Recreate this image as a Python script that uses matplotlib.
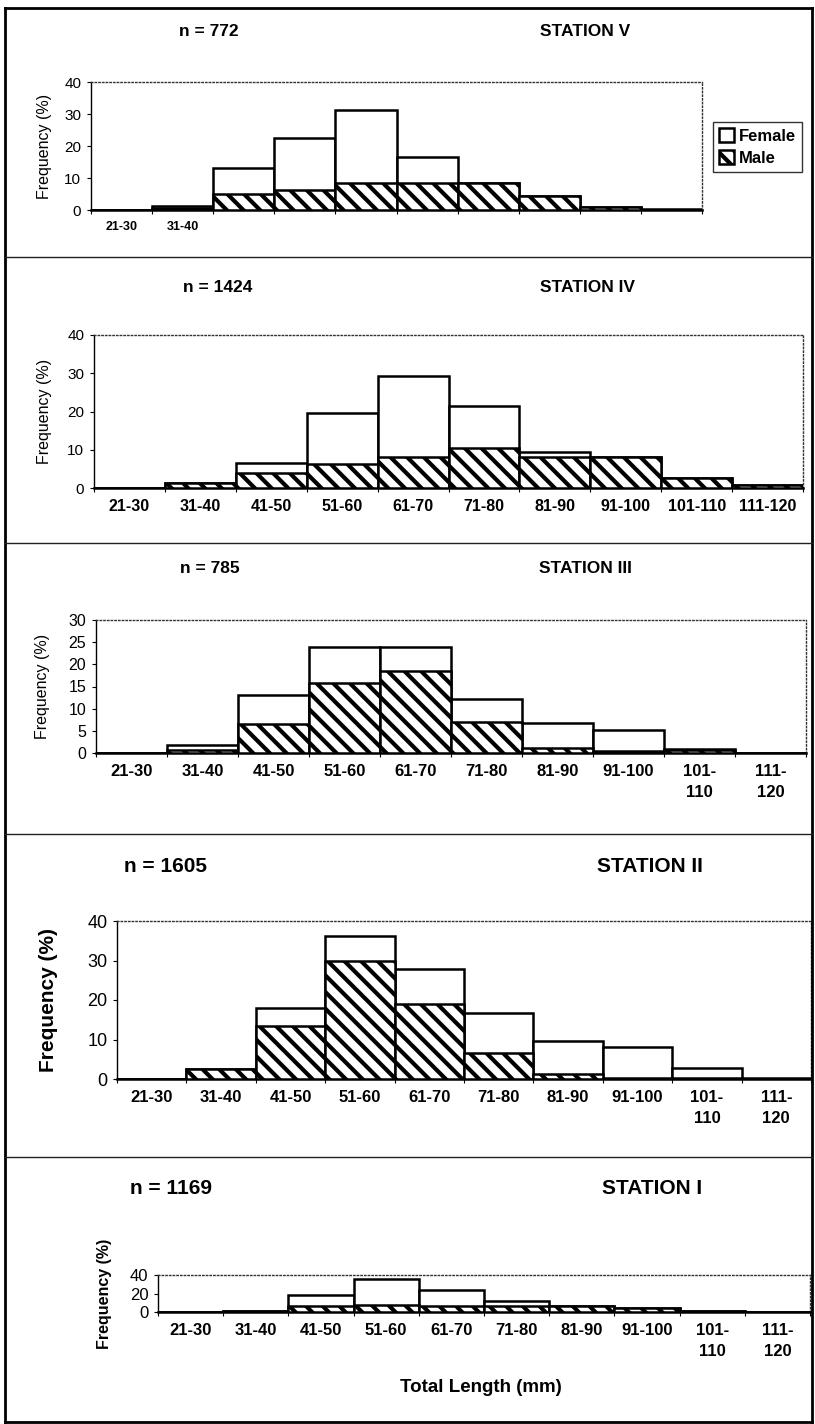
import numpy as np
import matplotlib
matplotlib.use("Agg")
import matplotlib.pyplot as plt
from matplotlib.lines import Line2D

plt.rcParams['font.family'] = ['Liberation Sans', 'DejaVu Sans']
plt.rcParams['hatch.linewidth'] = 3.0

cats = ['21-30', '31-40', '41-50', '51-60', '61-70', '71-80', '81-90', '91-100', '101-110', '111-120']
cats_wrapped = ['21-30', '31-40', '41-50', '51-60', '61-70', '71-80', '81-90', '91-100', '101-\n110', '111-\n120']

# frequency (%) per length class, female bars behind, male (hatched) in front
st5_female = [0, 1.3, 13.0, 22.4, 31.4, 16.5, 8.3, 4.3, 0.8, 0.2]
st5_male = [0, 0.5, 4.9, 6.2, 8.3, 8.3, 8.3, 4.3, 0.8, 0]
st4_female = [0, 1.2, 6.6, 19.7, 29.3, 21.5, 9.5, 8.0, 2.5, 0.8]
st4_male = [0, 1.2, 3.8, 6.3, 8.0, 10.4, 8.0, 8.0, 2.5, 0.8]
st3_female = [0, 1.7, 13.1, 24.0, 24.0, 12.1, 6.7, 5.2, 0.8, 0]
st3_male = [0, 0.7, 6.6, 15.9, 18.4, 7.1, 1.2, 0.5, 0.7, 0]
st2_female = [0, 2.6, 17.9, 36.2, 27.8, 16.7, 9.5, 8.2, 2.9, 0.3]
st2_male = [0, 2.5, 13.5, 29.8, 18.9, 6.7, 1.2, 0.3, 0.2, 0]
st1_female = [0, 1.5, 18.5, 36.0, 24.0, 12.0, 7.0, 4.0, 1.0, 0.5]
st1_male = [0, 1.0, 6.0, 8.0, 7.0, 7.0, 7.0, 4.0, 1.0, 0.5]

W, H = 815, 1424
fig = plt.figure(figsize=(W / 100, H / 100), dpi=100)


def px_axes(l, t, r, b):
    return fig.add_axes([l / W, 1 - b / H, (r - l) / W, (b - t) / H])


def fx(x):
    return x / W


def fy(y):
    return 1 - y / H


def panel(box, female, male, ymax, yticks, labels, xfs, yfs, ylab_fs, ylab_bold, ylab_x):
    ax = px_axes(*box)
    x = np.arange(len(female))
    ax.bar(x, female, width=1, color='white', edgecolor='black', linewidth=1.8, zorder=2, label='Female')
    ax.bar(x, male, width=1, color='white', edgecolor='black', hatch='\\\\', linewidth=1.8, zorder=3, label='Male')
    ax.set_xlim(-0.5, len(female) - 0.5)
    ax.set_ylim(0, ymax)
    ax.set_yticks(yticks)
    ax.set_yticklabels([str(v) for v in yticks], fontsize=yfs)
    ax.set_xticks(x[:len(labels)])
    ax.set_xticklabels(labels, fontsize=xfs, fontweight='bold', linespacing=1.5)
    ax.set_xticks(np.arange(len(female) + 1) - 0.5, minor=True)
    ax.tick_params(axis='x', which='major', length=0, pad=8)
    ax.tick_params(axis='x', which='minor', length=3, width=0.8)
    ax.tick_params(axis='y', length=3, width=0.8, pad=4)
    for s in ['top', 'right']:
        ax.spines[s].set_linestyle(':')
        ax.spines[s].set_linewidth(1.0)
        ax.spines[s].set_color('#333333')
    ax.spines['left'].set_linewidth(1.0)
    ax.spines['bottom'].set_linewidth(1.8)
    l, t, r, b = box
    fig.text(fx(ylab_x), fy((t + b) / 2), 'Frequency (%)', rotation=90, ha='center', va='center',
             fontsize=ylab_fs, fontweight='bold' if ylab_bold else 'normal')
    return ax


def titles(y, n_text, n_x, st_text, st_x, fs):
    fig.text(fx(n_x), fy(y), n_text, ha='center', va='center', fontsize=fs, fontweight='bold')
    fig.text(fx(st_x), fy(y), st_text, ha='center', va='center', fontsize=fs, fontweight='bold')


# Station V
titles(32, 'n = 772', 209, 'STATION V', 585, 12.5)
ax5 = panel((91, 82, 702, 210), st5_female, st5_male, 40, [0, 10, 20, 30, 40], cats[:2],
            9, 11, 11.5, False, 44)
ax5.legend(loc='center left', bbox_to_anchor=(fx(713), fy(147)), bbox_transform=fig.transFigure,
           frameon=True, fancybox=False, edgecolor='black', handlelength=0.9,
           handleheight=0.9, handletextpad=0.3, borderpad=0.35, labelspacing=0.4,
           borderaxespad=0, prop={'weight': 'bold', 'size': 12})

# Station IV
titles(287, 'n = 1424', 218, 'STATION IV', 587, 12.5)
panel((94, 335, 803, 488), st4_female, st4_male, 40, [0, 10, 20, 30, 40], cats,
      11.5, 11, 11.5, False, 44)

# Station III
titles(569, 'n = 785', 210, 'STATION III', 585, 12.5)
panel((96, 620, 806, 753), st3_female, st3_male, 30, [0, 5, 10, 15, 20, 25, 30], cats_wrapped,
      12, 11.5, 11.5, False, 42)

# Station II
titles(867, 'n = 1605', 166, 'STATION II', 650, 15)
panel((117, 921, 811, 1079), st2_female, st2_male, 40, [0, 10, 20, 30, 40], cats_wrapped,
      12, 13, 15, True, 49)

# Station I
titles(1188, 'n = 1169', 171, 'STATION I', 652, 15)
panel((158, 1275, 810, 1312), st1_female, st1_male, 40, [0, 20, 40], cats_wrapped,
      12, 12, 11.5, True, 104)
fig.text(fx(481), fy(1387), 'Total Length (mm)', ha='center', va='center', fontsize=13.5, fontweight='bold')

# outer frame and panel separators
frame = [(5, 8, 812, 8), (5, 8, 5, 1422), (5, 1422, 812, 1422), (812, 8, 812, 1422)]
for x0, y0, x1, y1 in frame:
    fig.add_artist(Line2D([fx(x0), fx(x1)], [fy(y0), fy(y1)], color='black', linewidth=2.0))
for ys in [257, 543, 834, 1157]:
    fig.add_artist(Line2D([fx(5), fx(812)], [fy(ys), fy(ys)], color='#222222', linewidth=1.0))

fig.savefig('out.png', dpi=100)
